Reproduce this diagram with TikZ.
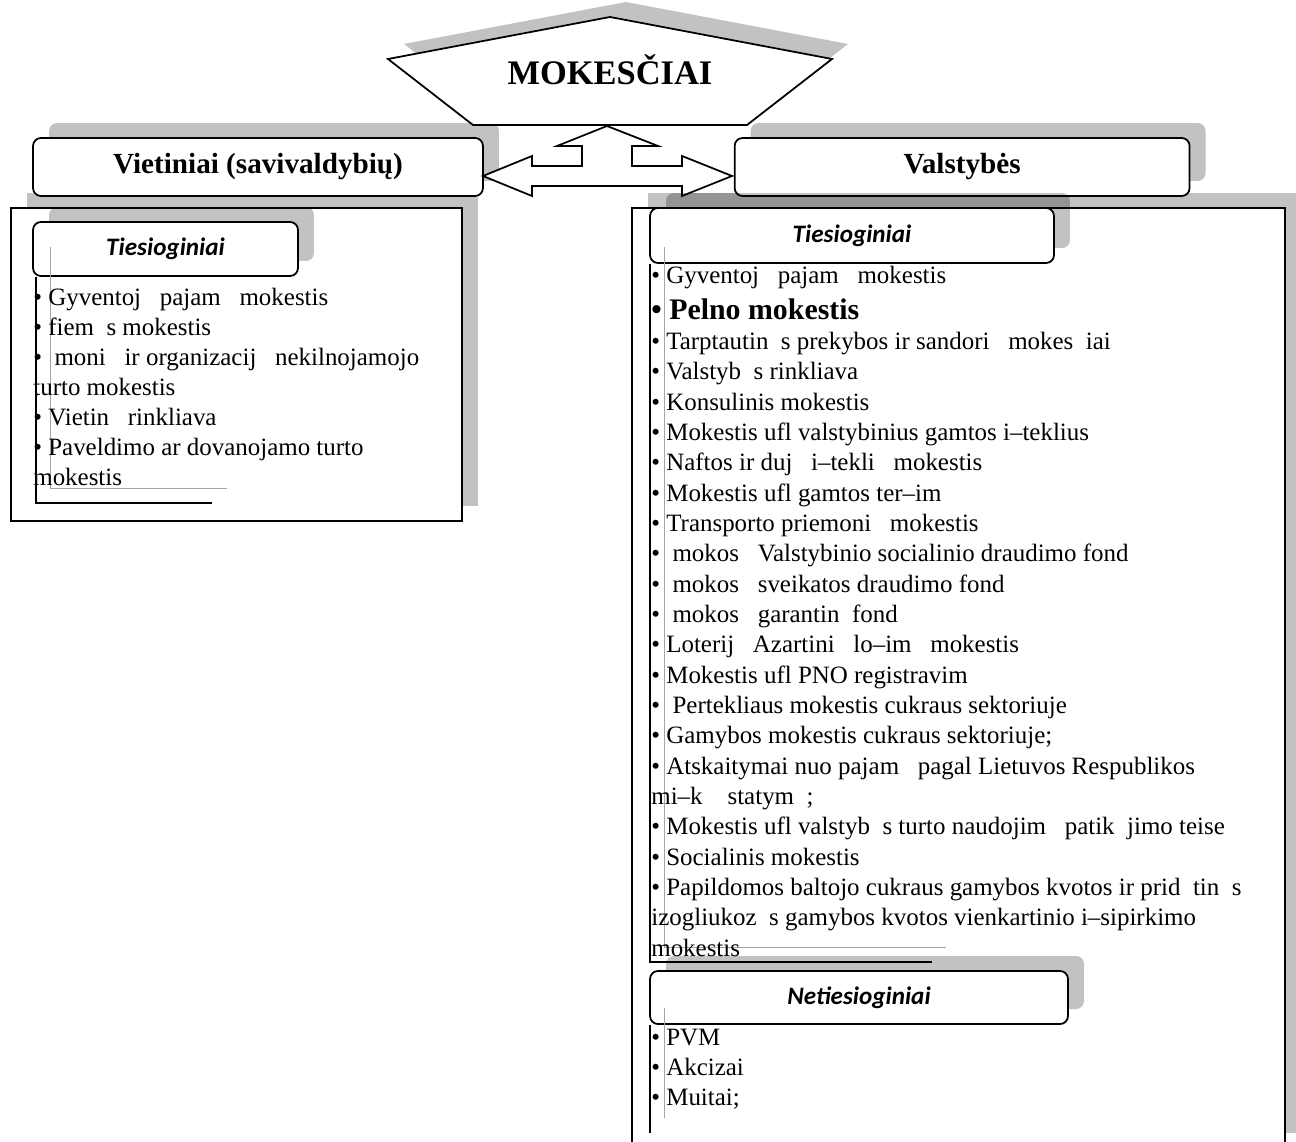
\documentclass[tikz,border=0pt]{standalone}
\usepackage{fontspec}
\setmainfont{Liberation Serif}
\newfontfamily\calibri{Carlito}
\usetikzlibrary{shapes,shadows,positioning}

\begin{document}
\begin{tikzpicture}[x=0.02cm,y=-0.02cm]
\tikzset{dropshade/.style={drop shadow={shadow xshift=0.32cm,shadow yshift=0.3cm,fill=black,opacity=0.24}}}
\tikzset{taxframe/.style={rectangle,draw,line width=1.1pt,fill=white,dropshade}}
\tikzset{hdrbox/.style={rectangle,rounded corners=4.5pt,draw,line width=1pt,fill=white,dropshade}}
\tikzset{subbox/.style={hdrbox,font=\calibri\bfseries\itshape\fontsize{14.3}{17}\selectfont}}
\tikzset{itemlist/.style={anchor=base west,align=left,inner sep=0pt,font=\fontsize{14.2}{17}\selectfont}}
\tikzstyle{guide} = [draw=black!35,line width=0.5pt]
\tikzstyle{edgeline} = [draw=black,line width=1.1pt]

\useasboundingbox (0,0) rectangle (1296,1142);

% frames
\node [taxframe, minimum width=9.02cm, minimum height=6.26cm] (leftframe) at (236.5,364.5) {};
\node [taxframe, minimum width=13.06cm, minimum height=18.8cm] (rightframe) at (958.5,678) {};

% top level
\node [hdrbox, font=\bfseries\fontsize{16.6}{20}\selectfont, minimum width=9cm, minimum height=1.16cm] (vietiniai) at (258,167) {Vietiniai (savivaldybių)};
\node [hdrbox, font=\bfseries\fontsize{16.6}{20}\selectfont, minimum width=9.1cm, minimum height=1.16cm, right=5cm of vietiniai] (valstybes) {Valstybės};

\draw [line width=1pt, fill=white, dropshade] (610,17) -- (832,59) -- (747,125) -- (473,125) -- (388,59) -- cycle;
\node [font=\bfseries\fontsize{19.6}{23}\selectfont] (mokesciai) at (610,70) {MOKESČIAI};

\draw [line width=1pt, fill=white] (483,176) -- (532,156) -- (532,166) -- (582,166) -- (582,146) -- (557,146) -- (607,126)
  -- (658,146) -- (632,146) -- (632,166) -- (682,166) -- (682,156) -- (732,176) -- (682,196) -- (682,186)
  -- (532,186) -- (532,196) -- cycle;

% sub boxes
\node [subbox, minimum width=5.3cm, minimum height=1.08cm] (leftdirect) at (165.5,249) {Tiesioginiai};
\node [subbox, minimum width=8.08cm, minimum height=1.1cm] (rightdirect) at (852,235.5) {Tiesioginiai};
\node [subbox, minimum width=8.36cm, minimum height=1.06cm] (indirect) at (859,997.5) {Netiesioginiai};

% stray text box edges
\draw [guide] (50,247) -- (50,488) -- (227,488);
\draw [edgeline] (leftdirect.south -| 36,0) -- (36,503) -- (212,503);
\draw [guide] (664,247) -- (664,947) -- (946,947);
\draw [edgeline] (rightdirect.south -| 650,0) -- (650,962) -- (932,962);
\draw [guide] (664,1008) -- (664,1118);
\draw [edgeline] (indirect.south -| 650,0) -- (650,1133);

% lists (base = last line)
\node [itemlist] (leftlist) at (33,485) {• Gyventoj~~~pajam~~~mokestis\\
• fiem~~s mokestis\\
•~~moni~~~ir organizacij~~~nekilnojamojo\\
turto mokestis\\
• Vietin~~~rinkliava\\
• Paveldimo ar dovanojamo turto\\
mokestis};

\node [itemlist, font=\fontsize{14.2}{17.26}\selectfont] (rightlist) at (651,956) {• Gyventoj~~~pajam~~~mokestis\\[3.2pt]
{\bfseries\fontsize{17}{20}\selectfont • Pelno mokestis}\\
• Tarptautin~~s prekybos ir sandori~~~mokes~~iai\\
• Valstyb~~s rinkliava\\
• Konsulinis mokestis\\
• Mokestis ufl valstybinius gamtos i–teklius\\
• Naftos ir duj~~~i–tekli~~~mokestis\\
• Mokestis ufl gamtos ter–im\\
• Transporto priemoni~~~mokestis\\
•~~mokos~~~Valstybinio socialinio draudimo fond\\
•~~mokos~~~sveikatos draudimo fond\\
•~~mokos~~~garantin~~fond\\
• Loterij~~~Azartini~~~lo–im~~~mokestis\\
• Mokestis ufl PNO registravim\\
•~~Pertekliaus mokestis cukraus sektoriuje\\
• Gamybos mokestis cukraus sektoriuje;\\
• Atskaitymai nuo pajam~~~pagal Lietuvos Respublikos\\
mi–k~~~~statym~~;\\
• Mokestis ufl valstyb~~s turto naudojim~~~patik~~jimo teise\\
• Socialinis mokestis\\
• Papildomos baltojo cukraus gamybos kvotos ir prid~~tin~~s\\
izogliukoz~~s gamybos kvotos vienkartinio i–sipirkimo\\
mokestis};

\node [itemlist] (indlist) at (651,1105) {• PVM\\
• Akcizai\\
• Muitai;};

\end{tikzpicture}
\end{document}
